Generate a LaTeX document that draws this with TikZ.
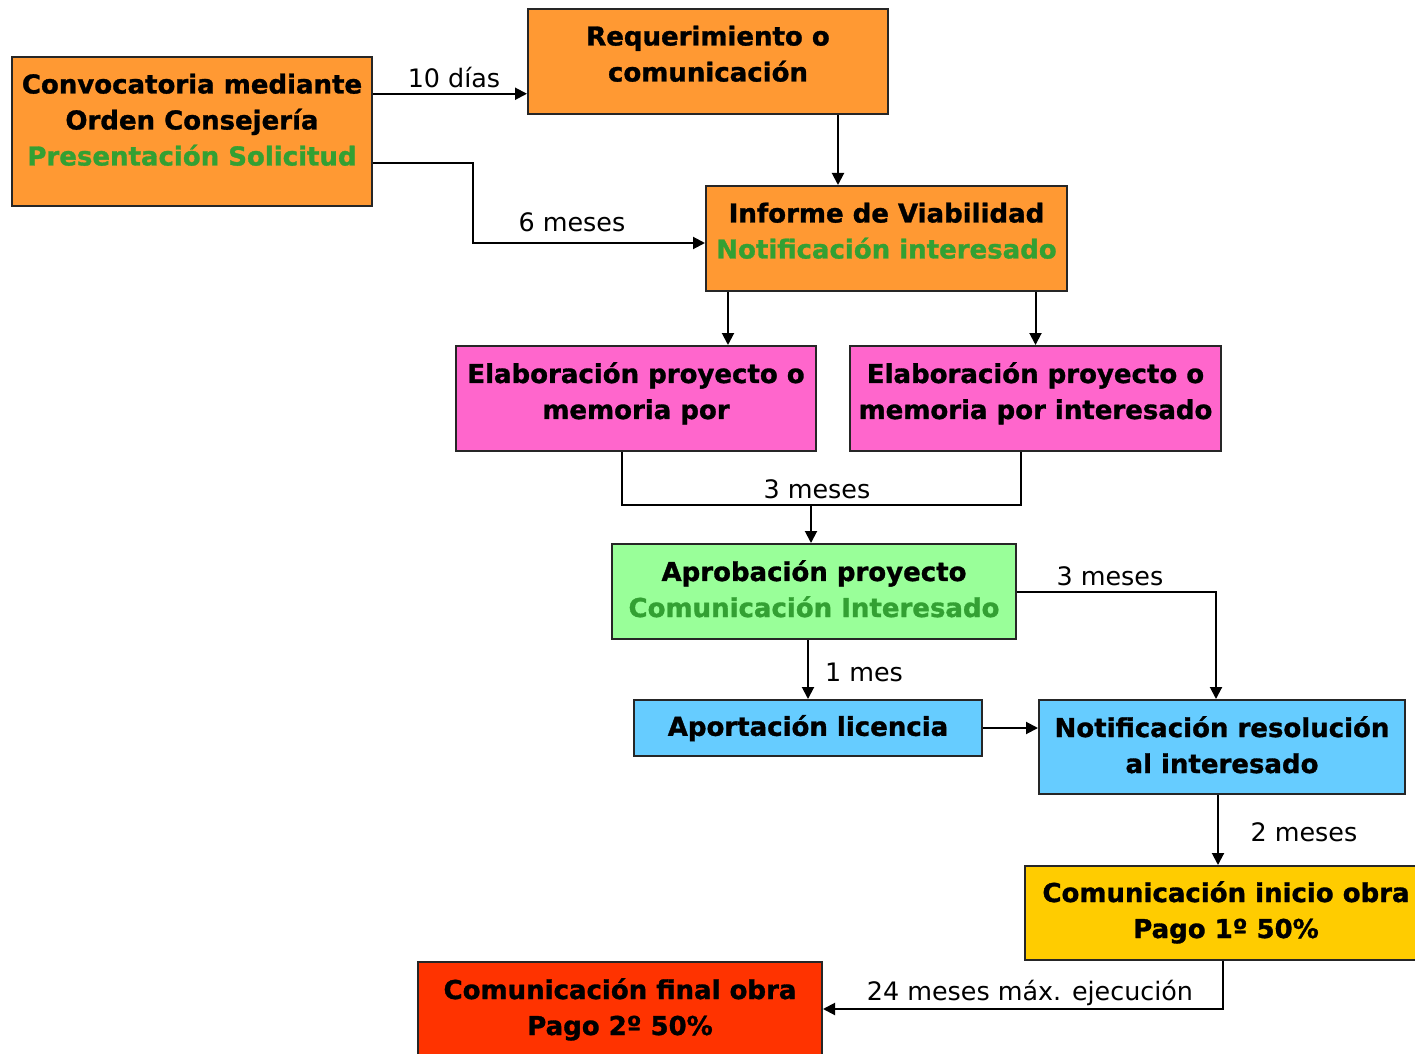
\documentclass[tikz,border=0pt]{standalone}
\usepackage{fontspec}
\setmainfont{DejaVu Sans}
\newfontface\negrita{DejaVu Sans Bold}[FakeBold=1.2]
\usetikzlibrary{arrows.meta, positioning, calc}
\definecolor{naranja}{RGB}{255,153,51}
\definecolor{rosa}{RGB}{255,102,204}
\definecolor{verdeclaro}{RGB}{153,255,153}
\definecolor{celeste}{RGB}{102,204,255}
\definecolor{amarillo}{RGB}{255,204,0}
\definecolor{rojo}{RGB}{255,51,0}
\definecolor{verdetexto}{RGB}{51,160,51}

\begin{document}
\begin{tikzpicture}[x=0.5pt, y=-0.5pt,
  paso/.style={rectangle, draw=black!85, line width=1pt, align=center, font=\fontsize{13}{18}\selectfont\negrita, inner sep=0pt, text depth=2.6pt},
  plazo/.style={font=\fontsize{12.7}{15}\selectfont, inner sep=0pt},
  flecha/.style={-{Triangle[length=6pt, width=6pt]}, line width=1pt}]
  \useasboundingbox (0,0) rectangle (1415,1054);
  % pasos del procedimiento
  \node[paso, fill=naranja, minimum width=180pt, minimum height=74.5pt, text depth=11.9pt] (conv) at (192,131.5) {Convocatoria mediante\\Orden Consejería\\\textcolor{verdetexto}{Presentación Solicitud}};
  \node[paso, fill=naranja, minimum width=180pt, minimum height=52.5pt, text depth=7.9pt] (req) at (708,61.5) {Requerimiento o\\comunicación};
  \node[paso, fill=naranja, minimum width=180.5pt, minimum height=52.5pt, text depth=7.9pt] (inf) at (886.5,238.5) {Informe de Viabilidad\\\textcolor{verdetexto}{Notificación interesado}};
  \node[paso, fill=rosa, minimum width=180pt, minimum height=52.5pt, text depth=7.9pt] (elab1) at (636,398.5) {Elaboración proyecto o\\memoria por};
  \node[paso, fill=rosa, minimum width=185.5pt, minimum height=52.5pt, text depth=7.9pt] (elab2) at (1035.5,398.5) {Elaboración proyecto o\\memoria por interesado};
  \node[paso, fill=verdeclaro, minimum width=202pt, minimum height=47.5pt, text depth=2.9pt] (aprob) at (814,591.5) {Aprobación proyecto\\\textcolor{verdetexto}{Comunicación Interesado}};
  \node[paso, fill=celeste, minimum width=174pt, minimum height=28pt] (lic) at (808,728) {Aportación licencia};
  \node[paso, fill=celeste, minimum width=183pt, minimum height=47pt, text depth=2.4pt] (resol) at (1222,747) {Notificación resolución\\al interesado};
  \node[paso, fill=amarillo, minimum width=201pt, minimum height=47pt, text depth=3.4pt] (inicio) at (1226,913) {Comunicación inicio obra\\Pago 1º 50\%};
  \node[paso, fill=rojo, minimum width=202pt, minimum height=47pt, text depth=2.4pt] (final) at (620,1009) {Comunicación final obra\\Pago 2º 50\%};
  % conexiones
  \coordinate (c1) at ($(conv.north east)!0.25!(conv.south east)$);
  \coordinate (c2) at ($(conv.north east)!0.71!(conv.south east)$);
  \draw[flecha] (c1) -- (c1 -| req.west);
  \draw[flecha] (c2) -- ++(100,0) |- ([yshift=-2.25pt]inf.west);
  \draw[flecha] (req.south -| 838,0) -- (inf.north -| 838,0);
  \draw[flecha] (inf.south -| 728,0) -- (elab1.north -| 728,0);
  \draw[flecha] (inf.south -| elab2.north) -- (elab2.north);
  \coordinate (union) at (811,505);
  \draw[line width=1pt] (elab1.south -| 622,0) |- (union) -| (elab2.south -| 1021,0);
  \draw[flecha] (union) -- (union |- aprob.north);
  \draw[flecha] (aprob.east) -| ([xshift=-3pt]resol.north);
  \draw[flecha] (aprob.south -| lic.north) -- (lic.north);
  \draw[flecha] (lic.east) -- (lic.east -| resol.west);
  \draw[flecha] (resol.south -| 1218,0) -- (inicio.north -| 1218,0);
  \draw[flecha] (inicio.south -| 1223,0) |- (final.east);
  % plazos
  \node[plazo] at (454,78) {10 días};
  \node[plazo] at (572,222) {6 meses};
  \node[plazo] at (817,489) {3 meses};
  \node[plazo] at (1110,576) {3 meses};
  \node[plazo] at (864,672) {1 mes};
  \node[plazo] at (1304,832) {2 meses};
  \node[plazo] at (1030,993) {24 meses máx. ejecución};
\end{tikzpicture}
\end{document}
